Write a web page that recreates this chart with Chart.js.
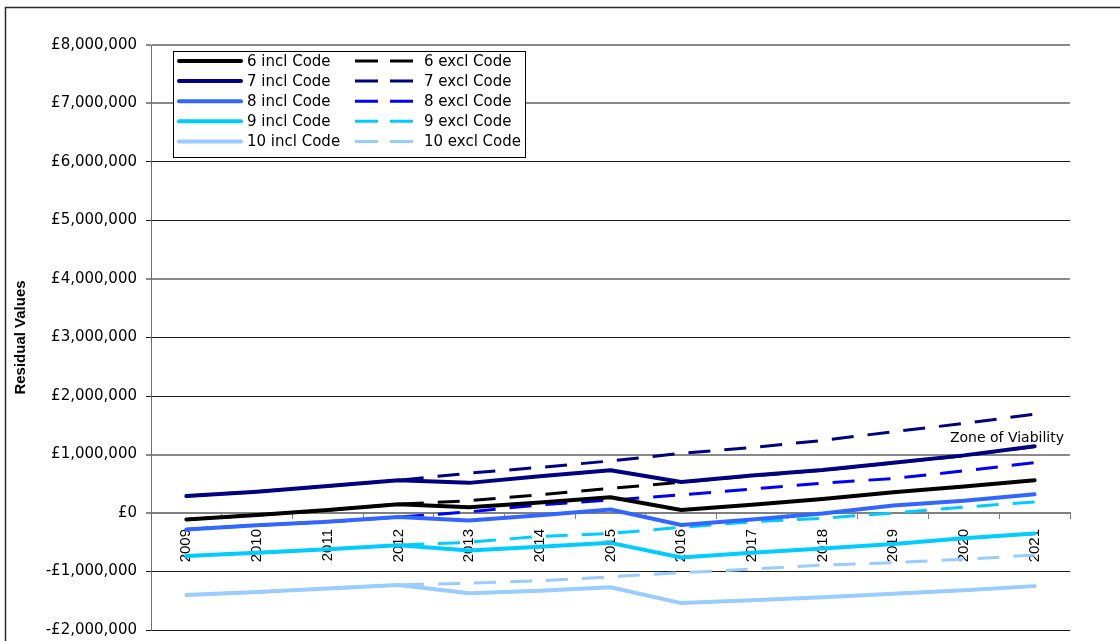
<!DOCTYPE html>
<html>
<head>
<meta charset="utf-8">
<title>Residual Values</title>
<script src="https://cdn.jsdelivr.net/npm/chart.js@4/dist/chart.umd.min.js"></script>
<style>
  html, body { margin: 0; padding: 0; background: #fff; }
  #wrap { position: relative; width: 1120px; height: 641px; }
  canvas { display: block; }
</style>
</head>
<body>
<div id="wrap"><canvas id="chart" width="1120" height="641"></canvas></div>
<script>
// Years on the category axis
const years = ['2009', '2010', '2011', '2012', '2013', '2014', '2015', '2016', '2017', '2018', '2019', '2020', '2021'];

// Residual values (£) per scenario, with and without the Code
const incl6  = [-110000, -35000, 50000, 150000, 100000, 180000, 270000, 50000, 140000, 240000, 355000, 455000, 560000];
const excl6  = [-110000, -35000, 50000, 150000, 210000, 310000, 420000, 525000, 635000, 730000, 855000, 980000, 1135000];
const incl7  = [290000, 365000, 460000, 560000, 515000, 630000, 730000, 530000, 640000, 735000, 860000, 985000, 1140000];
const excl7  = [290000, 365000, 460000, 560000, 680000, 780000, 890000, 1020000, 1120000, 1240000, 1390000, 1530000, 1690000];
const incl8  = [-280000, -210000, -150000, -70000, -130000, -40000, 60000, -205000, -110000, -10000, 130000, 210000, 320000];
const excl8  = [-280000, -210000, -150000, -70000, 20000, 140000, 220000, 310000, 410000, 510000, 590000, 720000, 860000];
const incl9  = [-735000, -680000, -620000, -550000, -640000, -575000, -510000, -760000, -680000, -605000, -530000, -430000, -350000];
const excl9  = [-735000, -680000, -620000, -550000, -500000, -400000, -350000, -245000, -150000, -90000, 0, 100000, 190000];
const incl10 = [-1400000, -1350000, -1290000, -1230000, -1370000, -1330000, -1270000, -1540000, -1490000, -1440000, -1380000, -1320000, -1250000];
const excl10 = [-1400000, -1350000, -1290000, -1230000, -1200000, -1160000, -1090000, -1020000, -960000, -890000, -850000, -790000, -720000];

// Value axis range and the reference line label
const yMin = -2000000;
const yMax = 8000000;
const yStep = 1000000;
const viabilityValue = 1000000;
const viabilityText = 'Zone of Viability';

// Grid values drawn with the softer grey rule
const softGridValues = [8000000, 7000000, 4000000, 1000000, 0];

const TEXT_FONT = '"DejaVu Sans", "Liberation Sans", Arial, sans-serif';
const AXIS_FONT = '"Liberation Sans", Arial, sans-serif';

function poundFormat(v) {
  const s = Math.abs(v).toLocaleString('en-GB');
  return (v < 0 ? '-£' : '£') + s;
}

function solid(label, data, color) {
  return {
    label, data,
    borderColor: color, backgroundColor: color,
    borderWidth: 4, borderCapStyle: 'round', borderJoinStyle: 'round',
    pointRadius: 0, pointHoverRadius: 0, tension: 0, fill: false, order: 0
  };
}
function dashed(label, data, color) {
  return {
    label, data,
    borderColor: color, backgroundColor: color,
    borderWidth: 3, borderDash: [22, 14], borderCapStyle: 'butt', borderJoinStyle: 'round',
    pointRadius: 0, pointHoverRadius: 0, tension: 0, fill: false, order: 1
  };
}

const datasets = [
  solid('6 incl Code', incl6, '#000000'),   dashed('6 excl Code', excl6, '#000000'),
  solid('7 incl Code', incl7, '#000080'),   dashed('7 excl Code', excl7, '#000080'),
  solid('8 incl Code', incl8, '#3366FF'),   dashed('8 excl Code', excl8, '#0000FF'),
  solid('9 incl Code', incl9, '#00CCFF'),   dashed('9 excl Code', excl9, '#00CCFF'),
  solid('10 incl Code', incl10, '#99CCFF'), dashed('10 excl Code', excl10, '#99CCFF')
];

// Thin frame around the chart
const framePlugin = {
  id: 'frame',
  beforeDraw(chart) {
    const ctx = chart.ctx;
    ctx.save();
    ctx.fillStyle = '#fff';
    ctx.fillRect(0, 0, chart.width, chart.height);
    ctx.strokeStyle = '#2a2a2a';
    ctx.lineWidth = 1.5;
    ctx.beginPath();
    ctx.moveTo(5.5, chart.height);
    ctx.lineTo(5.5, 7.5);
    ctx.lineTo(chart.width, 7.5);
    ctx.stroke();
    ctx.restore();
  }
};

// Label above the viability line
const viabilityPlugin = {
  id: 'viability',
  afterDatasetsDraw(chart) {
    const { ctx, chartArea, scales } = chart;
    const y = scales.y.getPixelForValue(viabilityValue);
    ctx.save();
    ctx.font = '14px ' + TEXT_FONT;
    ctx.fillStyle = '#000';
    ctx.textAlign = 'right';
    ctx.textBaseline = 'alphabetic';
    ctx.fillText(viabilityText, chartArea.right - 6, y - 13);
    ctx.restore();
  }
};

// Two-column legend (incl / excl) boxed inside the plot area
function drawSample(ctx, ds, x1, x2, y, dash) {
  ctx.save();
  ctx.strokeStyle = ds.borderColor;
  ctx.lineWidth = ds.borderWidth;
  ctx.lineCap = dash ? 'butt' : 'round';
  ctx.setLineDash(dash || []);
  ctx.beginPath();
  ctx.moveTo(x1, y);
  ctx.lineTo(x2, y);
  ctx.stroke();
  ctx.restore();
}
const pairLegendPlugin = {
  id: 'pairLegend',
  afterDraw(chart) {
    const { ctx, chartArea } = chart;
    const x0 = chartArea.left + 22;
    const y0 = chartArea.top + 6;
    const w = 352, h = 106;
    ctx.save();
    ctx.fillStyle = '#fff';
    ctx.fillRect(x0, y0, w, h);
    ctx.strokeStyle = '#000';
    ctx.lineWidth = 1;
    ctx.strokeRect(x0 + 0.5, y0 + 0.5, w, h);
    ctx.font = '15px ' + TEXT_FONT;
    ctx.fillStyle = '#000';
    ctx.textAlign = 'left';
    ctx.textBaseline = 'middle';
    const ds = chart.data.datasets;
    for (let i = 0; i < ds.length; i += 2) {
      const y = y0 + 10 + (i / 2) * 20.1;
      drawSample(ctx, ds[i], x0 + 6, x0 + 68, y, null);
      ctx.fillText(ds[i].label, x0 + 74, y + 1);
      drawSample(ctx, ds[i + 1], x0 + 182, x0 + 240, y, [23, 12]);
      ctx.fillText(ds[i + 1].label, x0 + 251, y + 1);
    }
    ctx.restore();
  }
};

new Chart(document.getElementById('chart'), {
  type: 'line',
  data: { labels: years, datasets },
  plugins: [framePlugin, viabilityPlugin, pairLegendPlugin],
  options: {
    responsive: false,
    animation: false,
    devicePixelRatio: 1,
    layout: { padding: { left: 6, top: 45, right: 50, bottom: 11 } },
    plugins: {
      legend: { display: false },
      title: { display: false },
      tooltip: { enabled: false }
    },
    scales: {
      x: {
        type: 'category',
        position: { y: 0 },
        offset: true,
        grid: {
          offset: true,
          drawOnChartArea: false,
          drawTicks: true,
          tickLength: 5,
          color: '#808080',
          lineWidth: 1
        },
        border: { display: true, color: '#808080', width: 2 },
        ticks: {
          autoSkip: false,
          minRotation: 90,
          maxRotation: 90,
          padding: 11,
          color: '#000',
          font: { family: AXIS_FONT, size: 15 }
        }
      },
      y: {
        min: yMin,
        max: yMax,
        afterFit(scale) {
          scale.width = 145;
          scale.paddingTop = 0;
          scale.paddingBottom = 0;
        },
        ticks: {
          stepSize: yStep,
          padding: 9,
          color: '#000',
          font: { family: TEXT_FONT, size: 15 },
          callback: (v) => poundFormat(v)
        },
        grid: {
          drawTicks: true,
          tickLength: 5,
          color: (c) => softGridValues.includes(c.tick && c.tick.value) ? '#8a8a8a' : '#1a1a1a',
          lineWidth: (c) => softGridValues.includes(c.tick && c.tick.value) ? 2 : 1
        },
        border: { display: true, color: '#6e6e6e', width: 1 },
        title: {
          display: true,
          text: 'Residual Values',
          color: '#000',
          font: { family: AXIS_FONT, size: 15, weight: 'bold' },
          padding: { top: 6, bottom: 0 }
        }
      }
    }
  }
});
</script>
</body>
</html>
